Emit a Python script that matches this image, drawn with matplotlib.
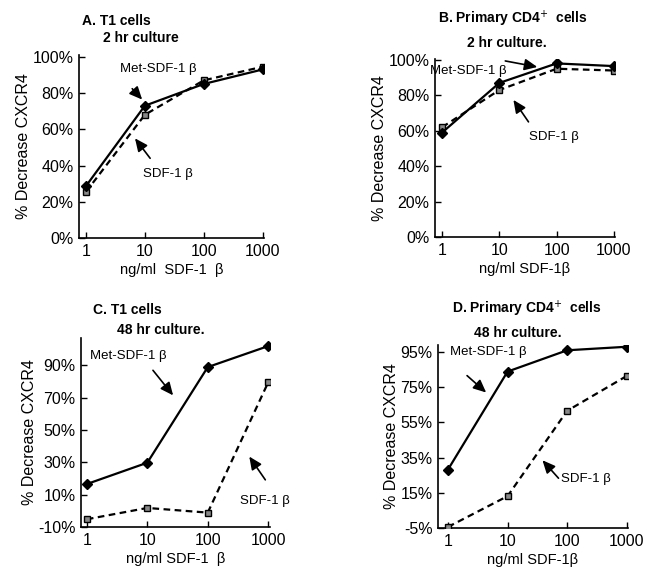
import matplotlib
matplotlib.use('Agg')
import matplotlib.pyplot as plt
from matplotlib.ticker import FixedLocator, LogLocator, NullFormatter

plt.rcParams['font.family'] = ['Liberation Sans', 'DejaVu Sans']

W, H = 645, 569

conc = [1, 10, 100, 1000]
xticklabels = ['1', '10', '100', '1000']

# panel A: T1 cells, 2 hr
a_met = [28.7, 73, 85, 93]
a_sdf = [25.5, 68, 87, 94.5]
# panel B: primary CD4+, 2 hr
b_met = [59, 87, 98, 96.5]
b_sdf = [62, 83, 95, 94]
# panel C: T1 cells, 48 hr
c_met = [16.6, 29.8, 89, 102]
c_sdf = [-5.2, 1.8, -1.1, 79.6]
# panel D: primary CD4+, 48 hr
d_met = [28.2, 83.9, 96, 98]
d_sdf = [-4.4, 13.1, 61.6, 81.4]

a_yticks = [0, 20, 40, 60, 80, 100]
b_yticks = [0, 20, 40, 60, 80, 100]
c_yticks = [-10, 10, 30, 50, 70, 90]
d_yticks = [-5, 15, 35, 55, 75, 95]


def box(l, t, r, b):
    return [l / W, 1 - b / H, (r - l) / W, (b - t) / H]


def fx(x, y):
    return x / W, 1 - y / H


fig = plt.figure(figsize=(6.45, 5.69), dpi=100)
fig.patch.set_facecolor('white')

panels = [
    dict(rect=box(79, 55, 264, 238), met=a_met, sdf=a_sdf, yt=a_yticks,
         ylim=(0, 101), xlim=(0.76, 1060), xlabel='ng/ml  SDF-1  β',
         met_txt=(16.9, 93), met_arr=((6.1, 82.4), (9.0, 76.4)),
         sdf_txt=(25, 35.5), sdf_arr=((12.3, 44), (6.8, 55))),
    dict(rect=box(435, 59, 615, 237), met=b_met, sdf=b_sdf, yt=b_yticks,
         ylim=(0, 100.5), xlim=(0.75, 1050), xlabel='ng/ml SDF-1β',
         met_txt=(2.86, 93.8), met_arr=((12.7, 99.4), (46, 96)),
         sdf_txt=(88.6, 56.5), sdf_arr=((32.3, 65), (17.6, 77.4))),
    dict(rect=box(81, 338, 270, 527), met=c_met, sdf=c_sdf, yt=c_yticks,
         ylim=(-10, 107), xlim=(0.8, 1070), xlabel='ng/ml SDF-1  β',
         met_txt=(4.79, 95.8), met_arr=((12.4, 87), (26.7, 71.5)),
         sdf_txt=(895, 6.2), sdf_arr=((895, 19.2), (486, 33.6))),
    dict(rect=box(438, 345, 628, 528), met=d_met, sdf=d_sdf, yt=d_yticks,
         ylim=(-5, 99), xlim=(0.68, 1050), xlabel='ng/ml SDF-1β',
         met_txt=(4.73, 95.2), met_arr=((2.09, 81.6), (4.37, 72)),
         sdf_txt=(204, 22.7), sdf_arr=((71.6, 23.3), (38.5, 33.5))),
]

for p in panels:
    ax = fig.add_axes(p['rect'])
    ax.plot(conc, p['sdf'], color='black', linestyle=(0, (3, 2)), linewidth=1.6,
            marker='s', markersize=5, markerfacecolor='#888888',
            markeredgecolor='black', markeredgewidth=1.0, zorder=3)
    ax.plot(conc, p['met'], color='black', linestyle='-', linewidth=1.6,
            marker='D', markersize=5.5, markerfacecolor='black',
            markeredgecolor='black', zorder=4)
    ax.set_xscale('log')
    ax.set_xlim(*p['xlim'])
    ax.set_ylim(*p['ylim'])
    ax.xaxis.set_major_locator(FixedLocator(conc))
    ax.set_xticklabels(xticklabels)
    ax.xaxis.set_minor_locator(LogLocator(base=10, subs=range(2, 10)))
    ax.xaxis.set_minor_formatter(NullFormatter())
    ax.set_yticks(p['yt'])
    ax.set_yticklabels([f'{v}%' for v in p['yt']])
    ax.tick_params(axis='both', which='major', direction='in', length=4,
                   width=1, labelsize=11.5, pad=4)
    ax.tick_params(axis='x', which='minor', direction='in', length=2.5, width=0.8)
    ax.spines[['top', 'right']].set_visible(False)
    ax.spines[['left', 'bottom']].set_linewidth(1.2)
    ax.set_ylabel('% Decrease CXCR4', fontsize=11.5, labelpad=1)
    ax.set_xlabel(p['xlabel'], fontsize=10.5, labelpad=3)
    ax.set_facecolor('white')

    ax.text(*p['met_txt'], 'Met-SDF-1 β', fontsize=9.5, ha='center', va='center')
    ax.text(*p['sdf_txt'], 'SDF-1 β', fontsize=9.5, ha='center', va='center')
    for tail, head in (p['met_arr'], p['sdf_arr']):
        ax.annotate('', xy=head, xytext=tail,
                    arrowprops=dict(arrowstyle='-|>,head_length=0.55,head_width=0.25',
                                    color='black', lw=1.2,
                                    mutation_scale=14, shrinkA=0, shrinkB=0))

title_kw = dict(fontsize=10, fontweight='bold', va='center')
fig.text(*fx(82, 21), 'A. T1 cells', ha='left', **title_kw)
fig.text(*fx(103, 38), '2 hr culture', ha='left', **title_kw)
fig.text(*fx(513, 19), 'B. Primary CD4$^{+}$  cells', ha='center', **title_kw)
fig.text(*fx(507, 43), '2 hr culture.', ha='center', **title_kw)
fig.text(*fx(93, 310), 'C. T1 cells', ha='left', **title_kw)
fig.text(*fx(117, 330), '48 hr culture.', ha='left', **title_kw)
fig.text(*fx(527, 309), 'D. Primary CD4$^{+}$  cells', ha='center', **title_kw)
fig.text(*fx(518, 333), '48 hr culture.', ha='center', **title_kw)

fig.savefig('out.png', dpi=100, facecolor='white')
